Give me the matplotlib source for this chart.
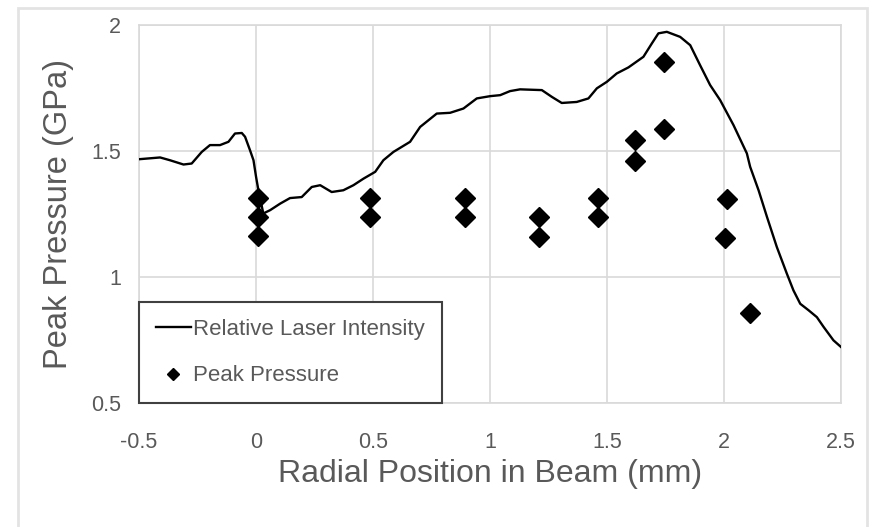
import matplotlib.pyplot as plt
from matplotlib.patches import Rectangle

# Relative laser intensity profile (traced)
laser_x = [-0.50, -0.41, -0.368, -0.31, -0.275, -0.232, -0.197, -0.154, -0.118, -0.09,
           -0.061, -0.047, -0.026, -0.011, 0.0, 0.01, 0.031, 0.06, 0.103, 0.145,
           0.195, 0.238, 0.274, 0.323, 0.373, 0.416, 0.459, 0.509, 0.544, 0.587,
           0.658, 0.701, 0.772, 0.829, 0.886, 0.943, 1.0, 1.043, 1.085, 1.128,
           1.221, 1.264, 1.306, 1.37, 1.42, 1.456, 1.499, 1.541, 1.591, 1.655,
           1.691, 1.719, 1.755, 1.812, 1.855, 1.897, 1.94, 1.983, 2.04, 2.097,
           2.111, 2.147, 2.183, 2.225, 2.268, 2.296, 2.325, 2.361, 2.396, 2.425,
           2.467, 2.50]
laser_y = [1.467, 1.474, 1.463, 1.446, 1.45, 1.496, 1.523, 1.523, 1.536, 1.569,
           1.571, 1.556, 1.503, 1.463, 1.397, 1.344, 1.252, 1.265, 1.291, 1.313,
           1.317, 1.357, 1.364, 1.337, 1.344, 1.364, 1.39, 1.417, 1.463, 1.496,
           1.536, 1.595, 1.648, 1.651, 1.668, 1.708, 1.717, 1.721, 1.737, 1.744,
           1.741, 1.714, 1.69, 1.694, 1.708, 1.748, 1.774, 1.807, 1.831, 1.873,
           1.926, 1.966, 1.972, 1.952, 1.919, 1.84, 1.761, 1.701, 1.602, 1.49,
           1.437, 1.344, 1.238, 1.119, 1.013, 0.947, 0.894, 0.868, 0.841, 0.802,
           0.749, 0.722]

# Measured peak pressures
pos_mm = [0.01, 0.01, 0.01, 0.487, 0.487, 0.893, 0.893, 1.21, 1.21, 1.463, 1.463,
          1.62, 1.62, 1.745, 1.745, 2.014, 2.004, 2.111]
pressure_gpa = [1.312, 1.237, 1.161, 1.312, 1.237, 1.312, 1.237, 1.236, 1.158, 1.313, 1.236,
                1.545, 1.459, 1.851, 1.586, 1.311, 1.156, 0.857]

plt.rcParams['font.family'] = ['Liberation Sans', 'DejaVu Sans']
grey_text = '#595959'

fig = plt.figure(figsize=(8.69, 5.27), dpi=100)
ax = fig.add_axes([0.160, 0.235, 0.808, 0.718])

ax.plot(laser_x, laser_y, color='black', lw=1.7, label='Relative Laser Intensity', zorder=3)
ax.plot(pos_mm, pressure_gpa, ls='none', marker='D', ms=10.5, color='black',
        label='Peak Pressure', zorder=4)

ax.set_xlim(-0.5, 2.5)
ax.set_ylim(0.5, 2.0)
ax.set_xticks([-0.5, 0, 0.5, 1, 1.5, 2, 2.5])
ax.set_xticklabels(['-0.5', '0', '0.5', '1', '1.5', '2', '2.5'])
ax.set_yticks([0.5, 1, 1.5, 2])
ax.set_yticklabels(['0.5', '1', '1.5', '2'])
ax.grid(True, color='#d9d9d9', lw=1.2)
ax.set_axisbelow(True)
for s in ax.spines.values():
    s.set_color('#d9d9d9')
    s.set_linewidth(1.2)
ax.tick_params(length=0, labelsize=15.5, colors=grey_text)
ax.tick_params(axis='x', pad=21)
ax.tick_params(axis='y', pad=13)

ax.set_xlabel('Radial Position in Beam (mm)', fontsize=23, color=grey_text, labelpad=4)
ax.set_ylabel('Peak Pressure (GPa)', fontsize=23.5, color=grey_text, labelpad=12)

leg = ax.legend(loc='lower left', bbox_to_anchor=(0.0, 0.0), fontsize=16,
                labelcolor=grey_text, fancybox=False, borderpad=0.75,
                labelspacing=1.15, handlelength=1.6, handletextpad=0.1,
                borderaxespad=0.0, markerscale=0.6)
leg.get_frame().set_edgecolor('#404040')
leg.get_frame().set_linewidth(1.5)
leg.get_frame().set_alpha(1)

# light outer frame around the chart (bottom edge runs off the image)
fig.patches.append(Rectangle((0.021, -0.02), 0.977, 1.005, transform=fig.transFigure,
                             fill=False, edgecolor='#e3e3e3', lw=2))

fig.savefig('out.png', dpi=100)
